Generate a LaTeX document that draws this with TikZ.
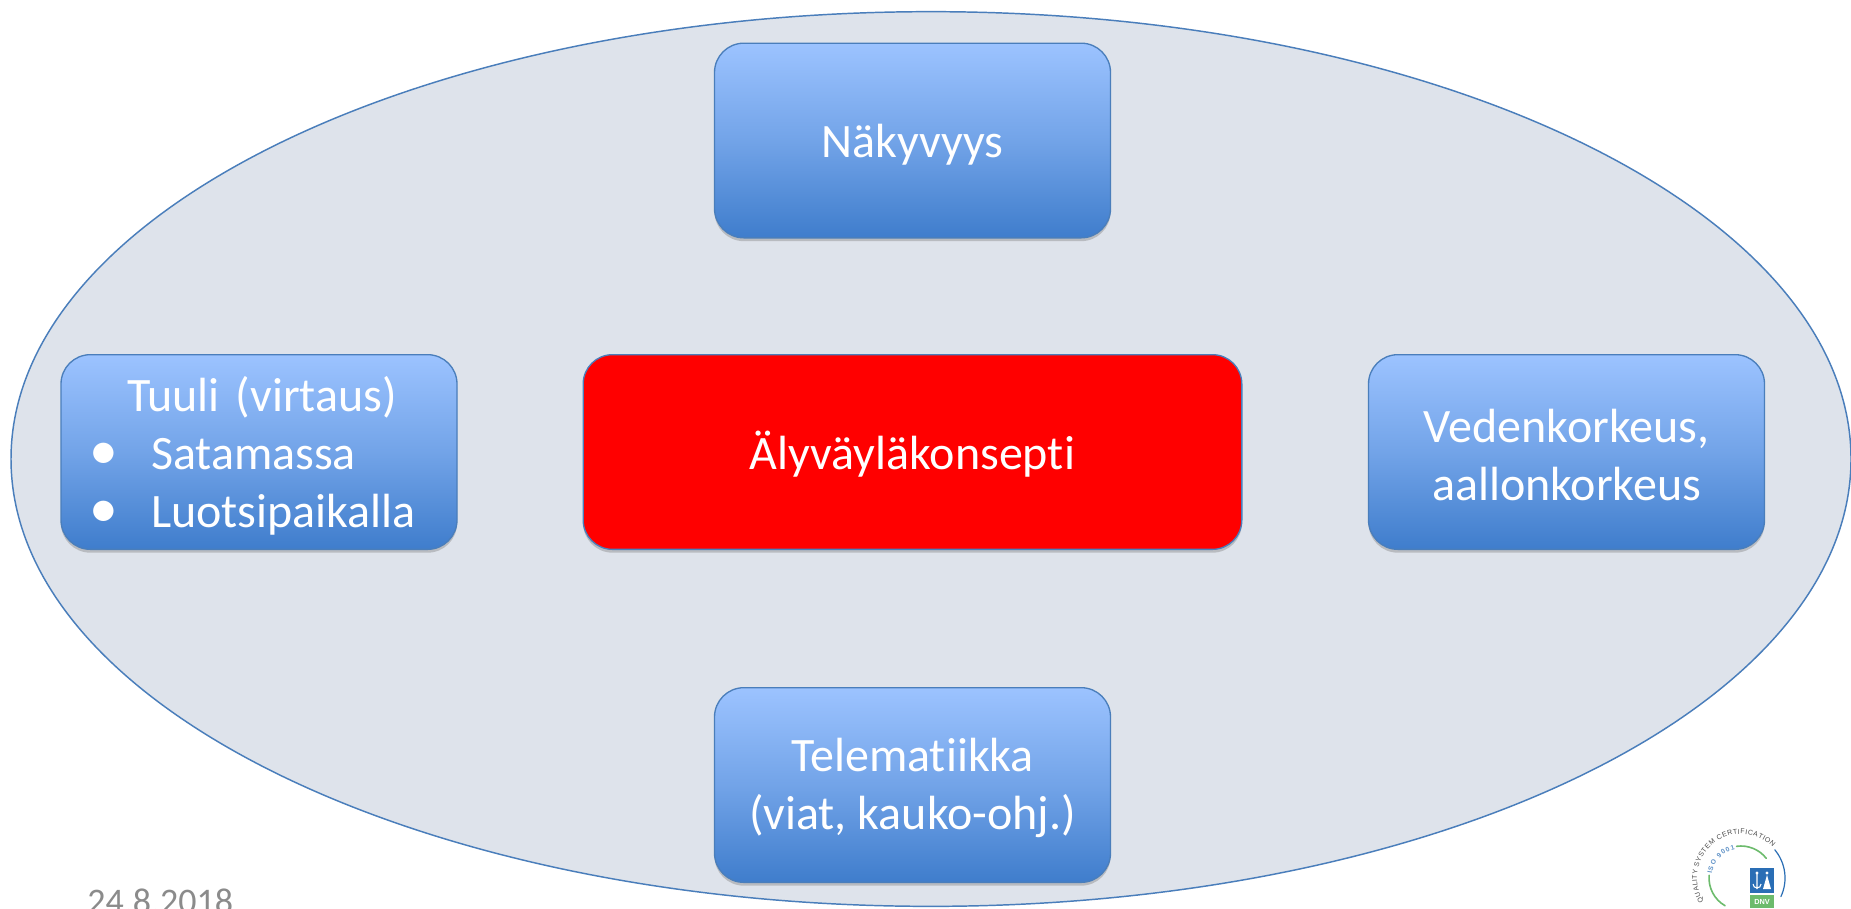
\documentclass[tikz,border=0pt]{standalone}
\usepackage{fontspec}
\setmainfont{Carlito}[Ligatures=NoCommon]
\newfontfamily\logofont{Liberation Sans}
\usetikzlibrary{shapes.geometric,shadows,decorations.text}
\definecolor{ovalfill}{HTML}{DEE3EB}
\definecolor{ovalline}{HTML}{4A7EBB}
\definecolor{boxtop}{HTML}{9CC3FF}
\definecolor{boxbottom}{HTML}{3F7DCC}
\definecolor{datetext}{HTML}{8B8B8B}
\definecolor{logogreen}{HTML}{6CBB6C}
\definecolor{logoblue}{HTML}{2A6EB5}
\tikzset{
 basebox/.style={rectangle,rounded corners=22pt,draw=ovalline,line width=1pt,text=white,
  minimum height=146pt,font=\fontsize{36}{43.5}\selectfont,align=center,text height=32pt,
  drop shadow={shadow xshift=0pt,shadow yshift=-2.5pt,opacity=.4}},
 bluebox/.style={basebox,minimum width=297pt,top color=boxtop,bottom color=boxbottom,middle color=boxtop!55!boxbottom},
 redbox/.style={basebox,minimum width=494pt,fill=red},
 twolines/.style={text height=72.5pt},
 logoarc/.style={line width=1.2pt,line cap=round}
}
\begin{document}
\begin{tikzpicture}[x=0.75pt,y=-0.75pt]
 \useasboundingbox (0,0) rectangle (1851,908);
 \fill[white] (0,0) rectangle (1851,908);
 \node[ellipse,draw=ovalline,fill=ovalfill,line width=1.1pt,minimum width=1380pt,minimum height=671pt,inner sep=0pt] (oval) at (931,459) {};
 \node[bluebox] (visibility) at (912.5,140.5) {Näkyvyys};
 \node[bluebox,text width=297pt,inner xsep=0pt,align=left] (wind) at (259,452) {\hspace*{49.5pt}Tuuli (virtaus)\\\hspace*{21.5pt}\rlap{\scalebox{1.2}{\textbullet}}\hspace*{46pt}Satamassa\\\hspace*{21.5pt}\rlap{\scalebox{1.2}{\textbullet}}\hspace*{46pt}Luotsipaikalla};
 \node[redbox] (concept) at (912.5,452) {Älyväyläkonsepti};
 \node[bluebox,twolines] (water) at (1566.5,452) {Vedenkorkeus,\\aallonkorkeus};
 \node[bluebox,twolines] (telematics) at (912.5,785) {Telematiikka\\(viat, kauko-ohj.)};
 \node[anchor=base west,inner sep=0pt,text=datetext,font=\fontsize{27}{32}\selectfont] (date) at (87,913) {24.8.2018};
 % logo
 \coordinate (logoc) at (1741,878);
 \draw[logogreen,logoarc] (logoc) ++(98:24pt) arc[start angle=98,end angle=38,radius=24pt];
 \draw[logogreen,logoarc] (logoc) ++(175:24pt) arc[start angle=175,end angle=240,radius=24pt];
 \draw[logoblue,logoarc,line width=.9pt] (logoc) ++(40:33pt) arc[start angle=40,end angle=-25,radius=33pt];
 \path[decorate,decoration={text along path,text align={fit to path},
  text={|\logofont\fontsize{5.2}{7}\selectfont\color{black!70}|QUALITY SYSTEM CERTIFICATION}}]
  (logoc) ++(212:33pt) arc[start angle=212,end angle=44,radius=33pt];
 \path[decorate,decoration={text along path,text align={fit to path},
  text={|\logofont\bfseries\fontsize{5}{7}\selectfont\color{logoblue!75}|ISO 9001}}]
  (logoc) ++(172:22pt) arc[start angle=172,end angle=102,radius=22pt];
 \fill[logoblue] (1750,868) rectangle (1774,893);
 \fill[logogreen] (1750,895) rectangle (1774,908);
 \fill[white] (1757,873) circle (1.2pt) (1767,873) circle (1.2pt);
 \draw[white,line width=.8pt] (1757,873)--(1757,889) (1753,884) arc[start angle=180,end angle=360,radius=3pt];
 \fill[white] (1767,875)--(1771,889)--(1763,889)--cycle;
 \node[inner sep=0pt,text=white,font=\logofont\bfseries\fontsize{5.5}{6}\selectfont] (dnv) at (1762,901.5) {DNV};
\end{tikzpicture}
\end{document}
